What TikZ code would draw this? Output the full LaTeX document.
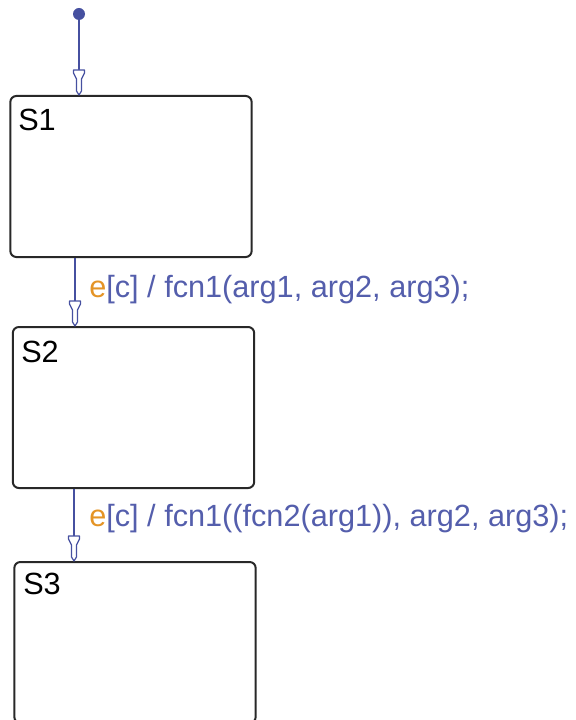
\documentclass[tikz,border=0pt]{standalone}
\usepackage{fontspec}
\setmainfont{Liberation Sans}
\definecolor{sfblue}{RGB}{70,80,160}
\definecolor{sftext}{RGB}{84,94,172}
\definecolor{sforange}{RGB}{228,148,38}
\definecolor{sfedge}{RGB}{40,40,40}
\tikzset{
  state/.style={rectangle,rounded corners=4.5pt,draw=sfedge,line width=1.5pt,
    minimum width=181pt,minimum height=120.75pt,inner sep=0pt},
  statename/.style={anchor=base west,inner sep=0pt,font=\fontsize{23}{27}\selectfont},
  guard/.style={anchor=base west,inner sep=0pt,text=sftext,font=\fontsize{23}{27}\selectfont},
  trans/.style={draw=sfblue,line width=1.1pt},
  initdot/.style={circle,fill=sfblue,inner sep=0pt,minimum size=9pt},
  % stateflow style open arrowhead, tip at origin
  pics/sfhead/.style={code={
    \filldraw[fill=white,draw=sfblue,line width=0.9pt,line join=round]
      (-5.5,-25) -- (5.5,-25) -- (5.5,-22) -- (2.5,-16) -- (2.5,-4) -- (0,0)
      -- (-2.5,-4) -- (-2.5,-16) -- (-5.5,-22) -- cycle;
  }},
}
\begin{document}
\begin{tikzpicture}[x=0.75pt,y=-0.75pt]
  \useasboundingbox (0,0) rectangle (575,720);
  \node[state] (S1) at (131,176.5) {};
  \node[state] (S2) at (133.5,407.5) {};
  \node[state] (S3) at (135,642.5) {};
  \node[statename] (S1-name) at (18,131) {S1};
  \node[statename] (S2-name) at (21,362) {S2};
  \node[statename] (S3-name) at (23,594) {S3};
  \node[initdot] (init) at (79,14) {};
  \coordinate (t12) at (75,0);
  \coordinate (t23) at (74,0);
  % transitions
  \draw[trans] (init) -- (S1.north -| init);
  \pic at (S1.north -| init) {sfhead};
  \draw[trans] (S1.south -| t12) -- (S2.north -| t12);
  \pic at (S2.north -| t12) {sfhead};
  \draw[trans] (S2.south -| t23) -- (S3.north -| t23);
  \pic at (S3.north -| t23) {sfhead};
  \node[guard] (g12) at (89,297) {\textcolor{sforange}{e}[c] / fcn1(arg1, arg2, arg3);};
  \node[guard] (g23) at (89,526) {\textcolor{sforange}{e}[c] / fcn1((fcn2(arg1)), arg2, arg3);};
\end{tikzpicture}
\end{document}
